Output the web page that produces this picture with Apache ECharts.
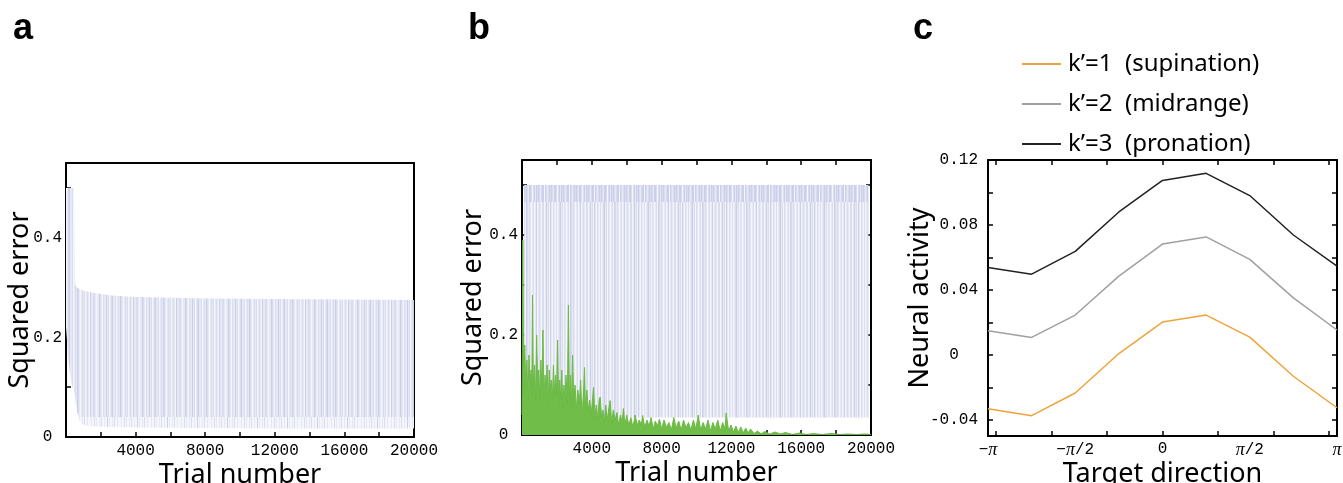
<!DOCTYPE html>
<html>
<head>
<meta charset="utf-8">
<script src="https://cdn.jsdelivr.net/npm/echarts@6/dist/echarts.min.js"></script>
<style>
  html, body { margin: 0; padding: 0; background: #fff; }
  #chart { width: 1343px; height: 483px; }
</style>
</head>
<body>
<div id="chart"></div>
<script>
// ---- panel a: envelope of the blue trace ----
const aTrials = [0, 150, 300, 460, 500, 560, 640, 760, 900, 1200, 1800, 2600, 4000, 8000, 12000, 16000, 20000];
const aUpper = [0.5, 0.5, 0.5, 0.5, 0.31, 0.303, 0.3, 0.297, 0.295, 0.292, 0.288, 0.284, 0.281, 0.278, 0.277, 0.276, 0.275];
const aDenseFloor = [0.22, 0.15, 0.11, 0.09, 0.085, 0.07, 0.05, 0.04, 0.04, 0.04, 0.04, 0.04, 0.04, 0.04, 0.04, 0.04, 0.04];
const aLower = [0.22, 0.15, 0.11, 0.09, 0.085, 0.07, 0.05, 0.034, 0.026, 0.023, 0.021, 0.02, 0.019, 0.018, 0.017, 0.017, 0.017];

// ---- panel b: blue envelope + green trace ----
const bTrials = [120, 19850];
const bLower = [0.035, 0.035];
const bDenseTop = [0.466, 0.466];
const bUpper = [0.5, 0.5];

const greenTrials = [
  0, 50, 100, 160, 220, 280, 340, 400, 460, 520, 560, 600, 650, 720, 780, 840, 900, 960,
  1020, 1080, 1140, 1200, 1260, 1320, 1380, 1440, 1500, 1560, 1620, 1680, 1740, 1800, 1860, 1920, 1980,
  2040, 2100, 2160, 2220, 2280, 2340, 2400, 2460, 2520, 2600, 2660, 2720, 2780, 2840, 2900, 2960,
  3040, 3120, 3200, 3280, 3360, 3440, 3520, 3580, 3640, 3720, 3800, 3880, 3960,
  4040, 4100, 4180, 4260, 4340, 4420, 4480, 4560, 4640, 4720, 4800, 4880, 4960,
  5050, 5140, 5240, 5340, 5440, 5540, 5640, 5740, 5810, 5900,
  6000, 6120, 6240, 6360, 6480, 6600, 6720, 6840, 6910, 7040, 7160, 7280, 7400, 7520, 7640, 7760, 7880,
  8000, 8140, 8280, 8420, 8560, 8700, 8840, 8980, 9120, 9260, 9400, 9540, 9680, 9820, 9960,
  10100, 10240, 10380, 10520, 10660, 10800, 10940, 11080, 11220, 11360, 11500, 11640, 11700, 11840, 11980,
  12120, 12260, 12400, 12540, 12680, 12820, 12960, 13100, 13300, 13500, 13700, 13900,
  14200, 14500, 14800, 15100, 15500, 15900, 16300, 16700, 17200, 17700, 18200, 18700, 19200, 19600, 20000
];
const greenError = [
  0.04, 0.39, 0.08, 0.18, 0.09, 0.15, 0.07, 0.16, 0.1, 0.13, 0.08, 0.28, 0.09, 0.14, 0.07, 0.2, 0.1, 0.13,
  0.07, 0.15, 0.09, 0.21, 0.07, 0.12, 0.08, 0.14, 0.06, 0.13, 0.09, 0.11, 0.07, 0.14, 0.08, 0.12, 0.08,
  0.19, 0.06, 0.11, 0.07, 0.13, 0.05, 0.1, 0.07, 0.12, 0.06, 0.26, 0.07, 0.12, 0.06, 0.16, 0.07,
  0.1, 0.05, 0.09, 0.06, 0.11, 0.04, 0.08, 0.135, 0.05, 0.09, 0.05, 0.07, 0.04,
  0.07, 0.095, 0.035, 0.06, 0.03, 0.07, 0.076, 0.035, 0.05, 0.025, 0.06, 0.03, 0.05,
  0.069, 0.025, 0.05, 0.03, 0.045, 0.02, 0.04, 0.025, 0.053, 0.02,
  0.04, 0.02, 0.035, 0.015, 0.04, 0.02, 0.03, 0.02, 0.039, 0.015, 0.03, 0.018, 0.035, 0.012, 0.028, 0.018, 0.032,
  0.012, 0.03, 0.015, 0.025, 0.01, 0.035, 0.014, 0.028, 0.01, 0.03, 0.014, 0.025, 0.01, 0.03, 0.012,
  0.04, 0.01, 0.025, 0.012, 0.03, 0.008, 0.025, 0.012, 0.03, 0.008, 0.025, 0.012, 0.044, 0.008, 0.02,
  0.006, 0.018, 0.005, 0.016, 0.004, 0.014, 0.004, 0.012, 0.003, 0.008, 0.002, 0.007,
  0.002, 0.006, 0.002, 0.005, 0.001, 0.004, 0.001, 0.003, 0.001, 0.003, 0.001, 0.002, 0.001, 0.002, 0.001
];

// ---- panel c: tuning curves ----
const directions = [-3.1416, -2.3562, -1.5708, -0.7854, 0, 0.7854, 1.5708, 2.3562, 3.1416];
const supination = [-0.0332, -0.0375, -0.0235, 0.0008, 0.0202, 0.0245, 0.0109, -0.0132, -0.0326];
const midrange = [0.0148, 0.0107, 0.0245, 0.0485, 0.0682, 0.0726, 0.0588, 0.0351, 0.0153];
const pronation = [0.0538, 0.0497, 0.0637, 0.088, 0.1074, 0.1118, 0.0981, 0.0738, 0.0546];
const seriesNames = ['k’=1  (supination)', 'k’=2  (midrange)', 'k’=3  (pronation)'];

// ---- ticks and labels ----
const trialTicks = [2000, 4000, 6000, 8000, 10000, 12000, 14000, 16000, 18000];
const trialLabels = [4000, 8000, 12000, 16000, 20000];
const errTicks = [0.1, 0.2, 0.3, 0.4, 0.5];
const errLabels = [0, 0.2, 0.4];
const dirTicks = [-3, -2, -1, 0, 1, 2, 3];
const dirLabels = [-Math.PI, -Math.PI / 2, 0, Math.PI / 2, Math.PI];
const dirLabelText = ['−{p|π}', '−{p|π}/2', '0', '{p|π}/2', '{p|π}'];
const actTicks = [-0.04, -0.02, 0, 0.02, 0.04, 0.06, 0.08, 0.1, 0.12];
const actLabels = [-0.04, 0, 0.04, 0.08, 0.12];

const pairs = (xs, ys) => xs.map((x, i) => [x, ys[i]]);

// stripy lavender fill (style only)
function stripes(code, pal) {
  const c = document.createElement('canvas');
  c.width = code.length;
  c.height = 8;
  const g = c.getContext('2d');
  for (let i = 0; i < code.length; i++) {
    g.fillStyle = pal[code[i]];
    g.fillRect(i, 0, 1, 8);
  }
  return { image: c, repeat: 'repeat' };
}
const pal = { w: '#f5f6fb', l: '#e6e8f4', m: '#dadcef', d: '#cbcfe8' };
const fillA = stripes('lmlwdllmmlwlldmlwmlldlmwlmdllmwlmldmlwlmlmw', pal);
const fillALight = stripes('wlwwmwlwwlwmwwlwwdwlwwlwmwwlww', pal);
const fillB = stripes('lmlwlmwldwlmlwmmwldlmwdlwmlwmwlmdlmwmlwlmwdm', pal);
const fillBTop = stripes('mdmlddmwmdldmdmlmddwdmlmd', pal);

const black = '#000';
const mono = { fontFamily: 'Liberation Mono', fontSize: 16, color: black };
const nameStyle = { fontFamily: 'Noto Sans', fontSize: 27, color: black };
const frameLine = { onZero: false, lineStyle: { color: black, width: 2 } };
const tickStyle = { color: black, width: 1.5 };
const yNameGaps = [32, 35];

function padZero(v, pad) {
  return Math.abs(v) < 1e-9 ? '0' + pad : String(v);
}

// filled band between two envelopes, placed through the axes
function band(xi, yi, xs, lo, hi, fill) {
  return {
    type: 'custom', xAxisIndex: xi, yAxisIndex: yi, silent: true, clip: true, z: 1,
    data: [[xs[0], lo[0]]],
    renderItem: (params, api) => {
      const top = xs.map((x, i) => api.coord([x, hi[i]]));
      const bottom = xs.map((x, i) => api.coord([x, lo[i]])).reverse();
      return { type: 'polygon', shape: { points: top.concat(bottom) }, style: { fill: fill } };
    }
  };
}

const xAxes = [];
const yAxes = [];
// panel a and b share the same axis setup
[0, 1].forEach((g) => {
  xAxes.push({
    gridIndex: g, type: 'value', min: 0, max: 20000, position: 'bottom',
    axisLine: frameLine,
    axisTick: { inside: true, length: 5, lineStyle: tickStyle, customValues: trialTicks },
    axisLabel: { customValues: trialLabels, margin: 6, ...mono, formatter: (v) => String(v) },
    splitLine: { show: false },
    name: 'Trial number', nameLocation: 'middle', nameGap: 25, nameMoveOverlap: false, nameTextStyle: nameStyle
  });
  xAxes.push({
    gridIndex: g, type: 'value', min: 0, max: 20000, position: 'top',
    axisLine: frameLine,
    axisTick: { show: g === 1, inside: true, length: 5, lineStyle: tickStyle, customValues: trialTicks },
    axisLabel: { show: false }, splitLine: { show: false }
  });
  yAxes.push({
    gridIndex: g, type: 'value', min: 0, max: 0.55, position: 'left',
    axisLine: frameLine,
    axisTick: { inside: true, length: 5, lineStyle: tickStyle, customValues: errTicks },
    axisLabel: { customValues: errLabels, margin: 4, ...mono, formatter: (v) => padZero(v, ' ') },
    splitLine: { show: false },
    name: 'Squared error', nameLocation: 'middle', nameGap: yNameGaps[g], nameRotate: 90,
    nameMoveOverlap: false, nameTextStyle: nameStyle
  });
  yAxes.push({
    gridIndex: g, type: 'value', min: 0, max: 0.55, position: 'right',
    axisLine: frameLine,
    axisTick: { show: g === 1, inside: true, length: 5, lineStyle: tickStyle, customValues: errTicks },
    axisLabel: { show: false }, splitLine: { show: false }
  });
});
// panel c
xAxes.push({
  gridIndex: 2, type: 'value', min: -Math.PI, max: Math.PI, position: 'bottom',
  axisLine: frameLine,
  axisTick: { inside: true, length: 5, lineStyle: tickStyle, customValues: dirTicks },
  axisLabel: {
    customValues: dirLabels, margin: 5, ...mono,
    formatter: (v) => {
      let k = 0;
      dirLabels.forEach((d, i) => { if (Math.abs(d - v) < Math.abs(dirLabels[k] - v)) k = i; });
      return dirLabelText[k];
    },
    rich: { p: { fontFamily: 'Liberation Serif', fontStyle: 'italic', fontSize: 18, color: black } }
  },
  splitLine: { show: false },
  name: 'Target direction', nameLocation: 'middle', nameGap: 25, nameMoveOverlap: false, nameTextStyle: nameStyle
});
xAxes.push({
  gridIndex: 2, type: 'value', min: -Math.PI, max: Math.PI, position: 'top',
  axisLine: frameLine,
  axisTick: { inside: true, length: 5, lineStyle: tickStyle, customValues: dirTicks },
  axisLabel: { show: false }, splitLine: { show: false }
});
yAxes.push({
  gridIndex: 2, type: 'value', min: -0.05, max: 0.12, position: 'left',
  axisLine: frameLine,
  axisTick: { inside: true, length: 5, lineStyle: tickStyle, customValues: actTicks },
  axisLabel: { customValues: actLabels, margin: 10, ...mono, formatter: (v) => padZero(v, '  ') },
  splitLine: { show: false },
  name: 'Neural activity', nameLocation: 'middle', nameGap: 54, nameRotate: 90,
  nameMoveOverlap: false, nameTextStyle: nameStyle
});
yAxes.push({
  gridIndex: 2, type: 'value', min: -0.05, max: 0.12, position: 'right',
  axisLine: frameLine,
  axisTick: { inside: true, length: 5, lineStyle: tickStyle, customValues: actTicks },
  axisLabel: { show: false }, splitLine: { show: false }
});

const lineColors = ['#eea43a', '#a0a0a0', '#222222'];

const chart = echarts.init(document.getElementById('chart'));
chart.setOption({
  animation: false,
  backgroundColor: '#fff',
  grid: [
    { left: 66, top: 163, width: 348, height: 274, outerBoundsMode: 'none' },
    { left: 522, top: 160, width: 349, height: 275, outerBoundsMode: 'none' },
    { left: 988, top: 160, width: 349, height: 276, outerBoundsMode: 'none' }
  ],
  xAxis: xAxes,
  yAxis: yAxes,
  legend: {
    data: seriesNames, orient: 'vertical', left: 1017, top: 44,
    itemWidth: 39, itemHeight: 2, icon: 'rect', itemGap: 10,
    textStyle: { fontFamily: 'Noto Sans', fontSize: 24, color: black, lineHeight: 30, padding: [0, 0, 0, 2] },
    selectedMode: false
  },
  graphic: [
    { type: 'text', left: 13, top: 11, style: { text: 'a', font: 'bold 36px "Liberation Sans"', fill: black } },
    { type: 'text', left: 468, top: 11, style: { text: 'b', font: 'bold 36px "Liberation Sans"', fill: black } },
    { type: 'text', left: 913, top: 11, style: { text: 'c', font: 'bold 36px "Liberation Sans"', fill: black } }
  ],
  series: [
    band(0, 0, aTrials, aLower, aDenseFloor, fillALight),
    band(0, 0, aTrials, aDenseFloor, aUpper, fillA),
    band(2, 2, bTrials, bLower, bDenseTop, fillB),
    band(2, 2, bTrials, bDenseTop, bUpper, fillBTop),
    {
      name: 'green', type: 'line', xAxisIndex: 2, yAxisIndex: 2,
      data: pairs(greenTrials, greenError), symbol: 'none', silent: true,
      lineStyle: { color: '#6cba46', width: 1 },
      areaStyle: { color: '#70bd4a', opacity: 1 },
      z: 3
    },
    ...[supination, midrange, pronation].map((vals, i) => ({
      name: seriesNames[i], type: 'line', xAxisIndex: 4, yAxisIndex: 4,
      data: pairs(directions, vals), symbol: 'none', color: lineColors[i],
      lineStyle: { color: lineColors[i], width: 1.5 }, z: 3
    }))
  ]
});
</script>
</body>
</html>
